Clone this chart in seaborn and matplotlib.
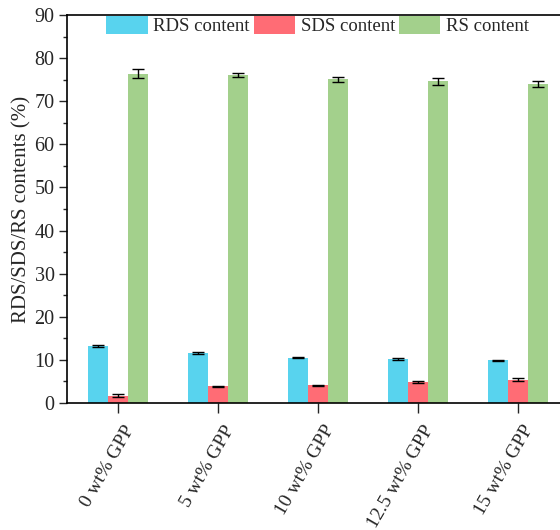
import numpy as np
import pandas as pd
import matplotlib
matplotlib.use("Agg")
import matplotlib.pyplot as plt
from matplotlib.ticker import MultipleLocator
from matplotlib.transforms import ScaledTranslation
import seaborn as sns

# Starch fractions for each GPP loading
samples = ["0 wt% GPP", "5 wt% GPP", "10 wt% GPP", "12.5 wt% GPP", "15 wt% GPP"]
series = ["RDS content", "SDS content", "RS content"]
rds = [13.2, 11.6, 10.5, 10.2, 9.9]
sds = [1.7, 3.9, 4.1, 4.9, 5.4]
rs = [76.4, 76.1, 75.1, 74.6, 74.0]
rds_err = [0.2, 0.15, 0.15, 0.15, 0.15]
sds_err = [0.3, 0.15, 0.15, 0.15, 0.3]
rs_err = [1.0, 0.5, 0.6, 0.8, 0.8]

colors = ["#58D3EE", "#FF6C75", "#A3D08C"]

df = pd.DataFrame({
    "sample": samples * 3,
    "series": [series[0]] * 5 + [series[1]] * 5 + [series[2]] * 5,
    "value": rds + sds + rs,
    "err": rds_err + sds_err + rs_err,
})

sns.set_style("ticks")
plt.rcParams["font.family"] = ["Liberation Serif", "DejaVu Serif"]

fig = plt.figure(figsize=(5.6, 5.3), dpi=100)
ax = fig.add_axes([67 / 560, 1 - 403 / 530, 1 - 67 / 560 + 0.01, (403 - 15) / 530])

sns.barplot(data=df, x="sample", y="value", hue="series", palette=colors,
            width=0.6, errorbar=None, saturation=1, ax=ax, linewidth=0)

# error bars at the centre of each drawn bar
for patch, (_, row) in zip(ax.patches, df.iterrows()):
    cx = patch.get_x() + patch.get_width() / 2
    ax.errorbar(cx, patch.get_height(), yerr=row["err"], fmt="none",
                ecolor="black", elinewidth=1.0, capsize=4, capthick=1.0, zorder=5)

ax.set_ylim(0, 90)
ax.set_xlim(-0.51, 4.48)
ax.yaxis.set_major_locator(MultipleLocator(10))
ax.yaxis.set_minor_locator(MultipleLocator(5))
ax.set_xlabel("")
ax.set_ylabel("RDS/SDS/RS contents (%)", fontsize=15, labelpad=2)

ax.tick_params(axis="y", which="major", direction="out", length=6, width=1,
               labelsize=14.5, pad=3)
ax.tick_params(axis="y", which="minor", direction="out", length=3, width=1)
ax.tick_params(axis="x", which="major", direction="out", length=7, width=1,
               labelsize=14, pad=7)
shift = ScaledTranslation(5 / 100, 0, fig.dpi_scale_trans)
for lab in ax.get_xticklabels():
    lab.set_rotation(60)
    lab.set_ha("right")
    lab.set_va("top")
    lab.set_rotation_mode("anchor")
    lab.set_transform(lab.get_transform() + shift)

for side in ["left", "bottom", "top"]:
    ax.spines[side].set_linewidth(1.2)
    ax.spines[side].set_color("black")
ax.spines["top"].set_visible(True)
ax.spines["right"].set_visible(False)

leg = ax.legend(loc="upper left", bbox_to_anchor=(0.077, 1.0), ncol=3, frameon=False,
                fontsize=13.5, handlelength=2.2, handleheight=1.1, handletextpad=0.3,
                columnspacing=0.22, borderaxespad=0.05, borderpad=0.0)

fig.savefig("out.png", dpi=100)
